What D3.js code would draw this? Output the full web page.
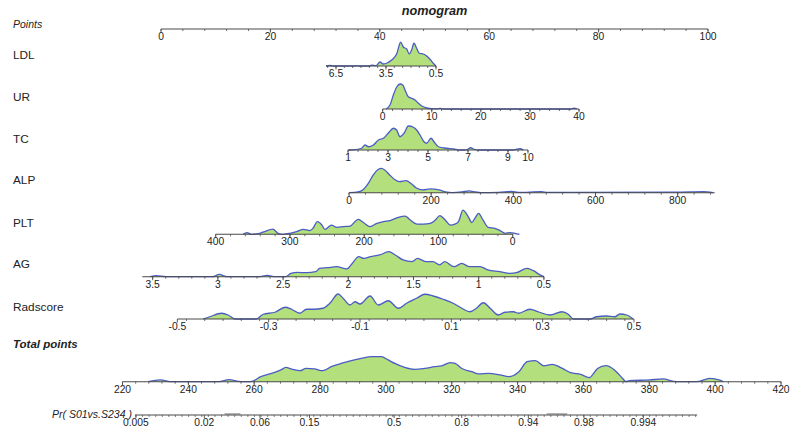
<!DOCTYPE html>
<html>
<head>
<meta charset="utf-8">
<script src="https://cdn.jsdelivr.net/npm/d3@7"></script>
<style>
  body { margin: 0; background: #fff; }
  svg text { font-family: "Liberation Sans", Arial, sans-serif; fill: #222; }
</style>
</head>
<body>
<svg id="chart" width="793" height="432"></svg>
<script>
// ---------------- data ----------------
const pointsTicks = [0, 20, 40, 60, 80, 100];

// each predictor: axis range, labelled ticks, two (value, points) pairs of the model, density [value, relative height]
const ldlRange = [7.1, 0.5];
const ldlTicks = [6.5, 3.5, 0.5];
const ldlPoints = [[6.5, 31.99], [0.5, 50.27]];
const ldlDensity = [[7.1,0],[6.86,0.02],[6.66,0],[5.4,0],[5.26,0.012],[5.1,0],[4.5,0],[4.36,0.03],[4.1,0.012],[3.86,0.16],[3.66,0.08],[3.46,0.11],[3.16,0.24],[2.86,0.48],[2.62,0.95],[2.46,0.76],[2.26,0.68],[2.1,0.48],[1.96,0.64],[1.82,0.91],[1.66,0.71],[1.5,0.51],[1.26,0.48],[1.06,0.4],[0.86,0.27],[0.66,0.11],[0.5,0]];

const urRange = [0, 40];
const urTicks = [0, 10, 20, 30, 40];
const urPoints = [[0, 40.53], [40, 76.42]];
const urDensity = [[0.67,0],[1.49,0.16],[2.17,0.56],[2.86,0.88],[3.53,1.0],[4.08,0.96],[4.55,0.76],[5.22,0.49],[5.92,0.43],[6.59,0.36],[7.27,0.23],[7.96,0.12],[8.98,0.04],[10,0.012],[11,0.008],[11.7,0.028],[12.4,0],[38.3,0],[39.0,0.03],[39.6,0]];

const tcRange = [1, 10];
const tcTicks = [1, 3, 5, 7, 9, 10];
const tcPoints = [[1, 34.19], [10, 67.09]];
const tcDensity = [[1.02,0],[1.27,0.008],[1.68,0.07],[1.85,0.2],[2.02,0.13],[2.27,0.2],[2.52,0.4],[2.77,0.47],[3.02,0.68],[3.27,0.87],[3.43,0.8],[3.6,0.53],[3.8,0.67],[4.02,0.96],[4.27,0.91],[4.43,0.8],[4.6,0.6],[4.8,0.33],[4.93,0.27],[5.15,0.47],[5.3,0.33],[5.52,0.13],[5.93,0.07],[6.27,0.04],[6.6,0],[6.93,0.008],[7.13,0.09],[7.3,0.03],[7.52,0],[9.27,0],[9.43,0.03],[9.6,0.05],[9.77,0]];

const alpRange = [0, 890];
const alpTicks = [0, 200, 400, 600, 800];
const alpPoints = [[0, 34.37], [800, 94.46]];
const alpDensity = [[1,0],[22,0.03],[35,0.13],[47,0.37],[59,0.71],[71,0.93],[79,0.97],[87,0.91],[99,0.71],[111,0.53],[123,0.44],[139,0.48],[151,0.37],[163,0.2],[179,0.11],[199,0.15],[219,0.11],[235,0.03],[251,0],[275,0.03],[292,0.07],[308,0.03],[320,0],[364,0.01],[396,0.05],[412,0.01],[468,0.04],[484,0.01],[525,0.01],[798,0.02],[862,0.04],[886,0]];

const pltRange = [400, 0];
const pltTicks = [400, 300, 200, 100, 0];
const pltPoints = [[400, 10.0], [0, 64.3]];
const pltDensity = [[363,0],[358,0.07],[352,0],[341,0.04],[334,0.11],[323,0.21],[316,0.04],[309,0],[300,0.04],[291,0.11],[282,0.2],[273,0.15],[269,0.24],[263,0.51],[257,0.37],[253,0.2],[244,0.37],[237,0.28],[228,0.31],[219,0.33],[208,0.6],[201,0.47],[192,0.31],[183,0.44],[174,0.51],[165,0.55],[154,0.68],[145,0.73],[138,0.57],[129,0.41],[120,0.41],[111,0.44],[105,0.55],[98,0.75],[91,0.57],[84,0.37],[78,0.41],[73,0.51],[67,0.97],[60,0.71],[55,0.47],[51,0.64],[46,0.84],[40,0.57],[33,0.28],[24,0.24],[17,0.15],[10,0.04],[4,0.07],[-3,0.04],[-9,0]];

const agRange = [3.58, 0.5];
const agTicks = [3.5, 3, 2.5, 2, 1.5, 1, 0.5];
const agPoints = [[3.5, -1.52], [0.5, 70.0]];
const agDensity = [[3.52,0],[3.47,0.04],[3.4,0],[3.04,0],[2.99,0.09],[2.93,0],[2.69,0],[2.62,0.05],[2.56,0],[2.48,0],[2.44,0.13],[2.39,0.17],[2.32,0.16],[2.25,0.2],[2.22,0.33],[2.16,0.36],[2.09,0.4],[2.01,0.31],[1.97,0.53],[1.92,0.8],[1.88,0.73],[1.83,0.8],[1.76,0.87],[1.69,1.0],[1.64,0.87],[1.58,0.67],[1.51,0.6],[1.47,0.73],[1.4,0.6],[1.35,0.6],[1.3,0.47],[1.26,0.6],[1.19,0.4],[1.13,0.53],[1.07,0.4],[0.99,0.4],[0.93,0.27],[0.84,0.2],[0.76,0.13],[0.71,0.16],[0.63,0.33],[0.58,0.24],[0.53,0.07],[0.5,0]];

const radRange = [-0.5, 0.5];
const radTicks = [-0.5, -0.3, -0.1, 0.1, 0.3, 0.5];
const radPoints = [[-0.5, 2.99], [0.5, 86.47]];
const radDensity = [[-0.443,0],[-0.429,0.09],[-0.403,0.23],[-0.389,0.16],[-0.374,0],[-0.327,0],[-0.312,0.19],[-0.286,0.27],[-0.264,0.47],[-0.25,0.39],[-0.232,0.23],[-0.217,0.39],[-0.203,0.39],[-0.181,0.43],[-0.166,0.63],[-0.148,1.0],[-0.137,0.83],[-0.122,0.56],[-0.111,0.69],[-0.1,0.6],[-0.078,0.92],[-0.06,0.56],[-0.038,0.73],[-0.016,0.43],[0.002,0.63],[0.024,0.83],[0.042,0.99],[0.06,0.92],[0.082,0.79],[0.104,0.63],[0.123,0.43],[0.141,0.29],[0.155,0.43],[0.17,0.65],[0.185,0.43],[0.203,0.16],[0.217,0.27],[0.236,0.29],[0.247,0.23],[0.272,0.39],[0.29,0.29],[0.316,0.16],[0.342,0.29],[0.356,0.19],[0.367,0],[0.404,0],[0.418,0.09],[0.44,0.12],[0.458,0.09],[0.469,0.2],[0.484,0.16],[0.498,0]];

const totalRange = [220, 420];
const totalTicks = [220, 240, 260, 280, 300, 320, 340, 360, 380, 400, 420];
const totalDensity = [[227.9,0],[231.5,0.07],[235,0],[249.3,0],[252.3,0.08],[255.9,0],[258.9,0],[262,0.2],[266,0.36],[268.1,0.47],[269.6,0.57],[271.7,0.49],[273.9,0.44],[275.7,0.53],[278.3,0.51],[280.8,0.44],[283.4,0.6],[286.4,0.73],[289.5,0.84],[292.5,0.93],[295.6,1.0],[298.6,1.0],[300.7,0.87],[302.7,0.73],[305.7,0.57],[308.8,0.49],[311.8,0.53],[314.9,0.6],[316.9,0.63],[319.5,0.76],[321,0.73],[323.1,0.53],[326.1,0.4],[328.2,0.31],[331.2,0.33],[334.7,0.27],[337.3,0.2],[340.4,0.4],[342.9,0.8],[345.4,0.84],[348,0.63],[350.5,0.69],[353.6,0.53],[356.1,0.36],[359.2,0.29],[361.7,0.16],[364.3,0.53],[366.8,0.64],[369.4,0.47],[371.9,0.13],[372.9,0],[374,0.04],[380.1,0.07],[384.1,0.11],[388.2,0],[394.3,0],[398.4,0.13],[401.4,0.06],[402.4,0]];

// probability axis: logistic link on total points
const prLabel = "Pr( S01vs.S234 )";
const prTicks = [0.005, 0.02, 0.06, 0.15, 0.5, 0.8, 0.94, 0.98, 0.994];
const prRange = [0.005, 0.998];
const prDenseBands = [[0.03, 0.041], [0.958, 0.972]];
const prCentre = 302.5;   // total points where Pr = 0.5
const prSlope = 0.0675;   // log-odds per total point

// ---------------- drawing ----------------
const svg = d3.select("#chart");
const FILL = "#b3df7d", LINE = "#4b5cc4", AXIS = "#4a4a4a";
const densH = 25;

const xPoints = d3.scaleLinear().domain([0, 100]).range([161, 708]);
const xTotal = d3.scaleLinear().domain(totalRange).range([122.5, 781]);

function fmt(v) { return String(+v.toFixed(4)); }

function drawAxis(scale, y, range, ticks, step) {
  const g = svg.append("g");
  const lo = Math.min(...range), hi = Math.max(...range);
  g.append("line").attr("x1", scale(range[0])).attr("x2", scale(range[1]))
    .attr("y1", y).attr("y2", y).attr("stroke", AXIS).attr("stroke-width", 1.1);
  const minor = d3.range(Math.ceil(lo / step - 1e-9), Math.floor(hi / step + 1e-9) + 1).map(i => i * step);
  g.selectAll(".mn").data(minor).join("line")
    .attr("x1", d => scale(d)).attr("x2", d => scale(d))
    .attr("y1", y).attr("y2", y + 2).attr("stroke", AXIS).attr("stroke-width", 0.8);
  g.selectAll(".mj").data(ticks).join("line")
    .attr("x1", d => scale(d)).attr("x2", d => scale(d))
    .attr("y1", y).attr("y2", y + 3.5).attr("stroke", AXIS).attr("stroke-width", 0.9);
  g.selectAll("text").data(ticks).join("text")
    .attr("x", d => scale(d)).attr("y", y + 11)
    .attr("text-anchor", "middle").attr("font-size", 10.3)
    .text(d => fmt(d));
  return g;
}

function drawDensity(scale, y, dens) {
  const yS = d3.scaleLinear().domain([0, 1]).range([y, y - densH]);
  const pts = dens.map(d => [scale(d[0]), yS(d[1])]).sort((a, b) => a[0] - b[0]);
  const area = d3.area().x(d => d[0]).y0(y).y1(d => d[1]).curve(d3.curveMonotoneX);
  const line = d3.line().x(d => d[0]).y(d => d[1]).curve(d3.curveMonotoneX);
  svg.append("path").attr("d", area(pts)).attr("fill", FILL);
  svg.append("path").attr("d", line(pts)).attr("fill", "none")
    .attr("stroke", LINE).attr("stroke-width", 1.3);
}

function rowLabel(text, y, bold) {
  svg.append("text").attr("x", 13).attr("y", y).attr("dominant-baseline", "central")
    .attr("font-size", bold ? 11.5 : 11.8)
    .attr("font-weight", bold ? "bold" : "normal")
    .attr("font-style", bold ? "italic" : "normal")
    .text(text);
}

// title
svg.append("text").attr("x", 434.5).attr("y", 11).attr("dominant-baseline", "central")
  .attr("text-anchor", "middle").attr("font-size", 12.7)
  .attr("font-weight", "bold").attr("font-style", "italic").text("nomogram");

// points axis
svg.append("text").attr("x", 13).attr("y", 24).attr("dominant-baseline", "central")
  .attr("font-size", 10.5).attr("font-style", "italic").text("Points");
drawAxis(xPoints, 29, [0, 100], pointsTicks, 4);

// predictors
const rows = [
  { name: "LDL", range: ldlRange, ticks: ldlTicks, pts: ldlPoints, dens: ldlDensity, step: 0.5, axisY: 66, labelY: 55 },
  { name: "UR", range: urRange, ticks: urTicks, pts: urPoints, dens: urDensity, step: 2, axisY: 109, labelY: 96.7 },
  { name: "TC", range: tcRange, ticks: tcTicks, pts: tcPoints, dens: tcDensity, step: 0.5, axisY: 150, labelY: 139.3 },
  { name: "ALP", range: alpRange, ticks: alpTicks, pts: alpPoints, dens: alpDensity, step: 40, axisY: 192.7, labelY: 180 },
  { name: "PLT", range: pltRange, ticks: pltTicks, pts: pltPoints, dens: pltDensity, step: 20, axisY: 234.3, labelY: 223 },
  { name: "AG", range: agRange, ticks: agTicks, pts: agPoints, dens: agDensity, step: 0.1, axisY: 276.7, labelY: 264 },
  { name: "Radscore", range: radRange, ticks: radTicks, pts: radPoints, dens: radDensity, step: 0.04, axisY: 319, labelY: 306.7 }
];

rows.forEach(r => {
  const sc = d3.scaleLinear()
    .domain([r.pts[0][0], r.pts[1][0]])
    .range([xPoints(r.pts[0][1]), xPoints(r.pts[1][1])]);
  rowLabel(r.name, r.labelY, false);
  drawDensity(sc, r.axisY, r.dens);
  drawAxis(sc, r.axisY, r.range, r.ticks, r.step);
});

// total points
rowLabel("Total points", 344.3, true);
drawDensity(xTotal, 381.7, totalDensity);
drawAxis(xTotal, 381.7, totalRange, totalTicks, 4);

// probability axis
const logit = p => Math.log(p / (1 - p));
const xPr = p => xTotal(prCentre + logit(p) / prSlope);
const prY = 415;
svg.append("line").attr("x1", xPr(prRange[0]) - 1).attr("x2", xPr(prRange[1]))
  .attr("y1", prY).attr("y2", prY).attr("stroke", AXIS).attr("stroke-width", 1.1);
const prMinor = d3.range(prCentre + logit(prRange[0]) / prSlope, prCentre + logit(prRange[1]) / prSlope, 2);
svg.selectAll(".prmn").data(prMinor).join("line")
  .attr("x1", d => xTotal(d)).attr("x2", d => xTotal(d))
  .attr("y1", prY).attr("y2", prY + 2).attr("stroke", AXIS).attr("stroke-width", 0.7);
// crowded tick runs rendered as short raised bands
prDenseBands.forEach(b => {
  svg.append("line").attr("x1", xPr(b[0])).attr("x2", xPr(b[1]))
    .attr("y1", prY - 1).attr("y2", prY - 1).attr("stroke", "#666").attr("stroke-width", 1);
});
svg.selectAll(".prmj").data(prTicks).join("line")
  .attr("x1", d => xPr(d)).attr("x2", d => xPr(d))
  .attr("y1", prY).attr("y2", prY + 3).attr("stroke", AXIS).attr("stroke-width", 0.9);
svg.selectAll(".prlab").data(prTicks).join("text")
  .attr("x", d => xPr(d)).attr("y", prY + 11)
  .attr("text-anchor", "middle").attr("font-size", 10.3).text(d => fmt(d));
svg.append("text").attr("x", 52).attr("y", 414).attr("dominant-baseline", "central")
  .attr("font-size", 10.5).attr("font-style", "italic").text(prLabel);
</script>
</body>
</html>
